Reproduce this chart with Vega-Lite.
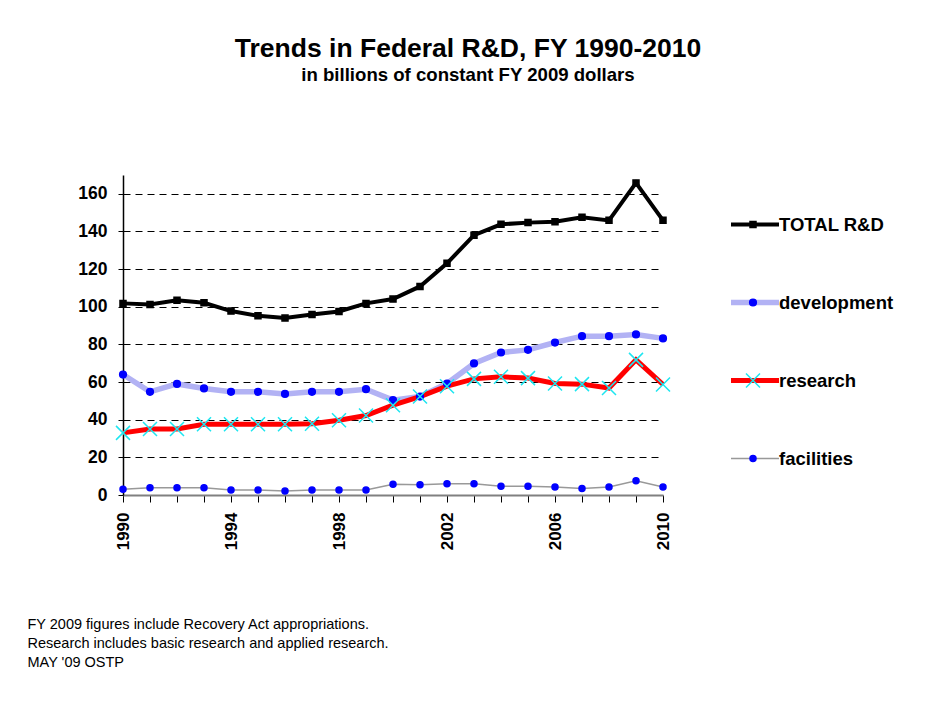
{
  "$schema": "https://vega.github.io/schema/vega-lite/v6.json",
  "width": 540,
  "height": 320,
  "padding": {"left": 27, "top": 35, "right": 10, "bottom": 10},
  "background": "white",
  "title": {
    "text": "Trends in Federal R&D, FY 1990-2010",
    "subtitle": "in billions of constant FY 2009 dollars",
    "fontSize": 26.5,
    "fontWeight": "bold",
    "color": "#000000",
    "subtitleFontSize": 18.6,
    "subtitleFontWeight": "bold",
    "subtitleColor": "#000000",
    "subtitlePadding": 4,
    "anchor": "middle",
    "frame": "group",
    "dx": 75,
    "offset": 90
  },
  "data": {
    "values": [
      {"year": 1990, "series": "TOTAL R&D", "value": 101.8},
      {"year": 1991, "series": "TOTAL R&D", "value": 101.2},
      {"year": 1992, "series": "TOTAL R&D", "value": 103.4},
      {"year": 1993, "series": "TOTAL R&D", "value": 102.1},
      {"year": 1994, "series": "TOTAL R&D", "value": 97.7},
      {"year": 1995, "series": "TOTAL R&D", "value": 95.2},
      {"year": 1996, "series": "TOTAL R&D", "value": 94.0},
      {"year": 1997, "series": "TOTAL R&D", "value": 95.9},
      {"year": 1998, "series": "TOTAL R&D", "value": 97.5},
      {"year": 1999, "series": "TOTAL R&D", "value": 101.8},
      {"year": 2000, "series": "TOTAL R&D", "value": 104.1},
      {"year": 2001, "series": "TOTAL R&D", "value": 110.8},
      {"year": 2002, "series": "TOTAL R&D", "value": 123.1},
      {"year": 2003, "series": "TOTAL R&D", "value": 138.0},
      {"year": 2004, "series": "TOTAL R&D", "value": 143.8},
      {"year": 2005, "series": "TOTAL R&D", "value": 144.7},
      {"year": 2006, "series": "TOTAL R&D", "value": 145.2},
      {"year": 2007, "series": "TOTAL R&D", "value": 147.5},
      {"year": 2008, "series": "TOTAL R&D", "value": 145.9},
      {"year": 2009, "series": "TOTAL R&D", "value": 165.8},
      {"year": 2010, "series": "TOTAL R&D", "value": 145.9},
      {"year": 1990, "series": "development", "value": 64.0},
      {"year": 1991, "series": "development", "value": 54.8},
      {"year": 1992, "series": "development", "value": 59.0},
      {"year": 1993, "series": "development", "value": 56.6},
      {"year": 1994, "series": "development", "value": 54.8},
      {"year": 1995, "series": "development", "value": 54.8},
      {"year": 1996, "series": "development", "value": 53.7},
      {"year": 1997, "series": "development", "value": 54.8},
      {"year": 1998, "series": "development", "value": 54.8},
      {"year": 1999, "series": "development", "value": 56.2},
      {"year": 2000, "series": "development", "value": 50.4},
      {"year": 2001, "series": "development", "value": 52.3},
      {"year": 2002, "series": "development", "value": 59.2},
      {"year": 2003, "series": "development", "value": 69.9},
      {"year": 2004, "series": "development", "value": 75.7},
      {"year": 2005, "series": "development", "value": 77.1},
      {"year": 2006, "series": "development", "value": 81.0},
      {"year": 2007, "series": "development", "value": 84.4},
      {"year": 2008, "series": "development", "value": 84.4},
      {"year": 2009, "series": "development", "value": 85.3},
      {"year": 2010, "series": "development", "value": 83.2},
      {"year": 1990, "series": "research", "value": 33.0},
      {"year": 1991, "series": "research", "value": 35.1},
      {"year": 1992, "series": "research", "value": 35.1},
      {"year": 1993, "series": "research", "value": 37.6},
      {"year": 1994, "series": "research", "value": 37.6},
      {"year": 1995, "series": "research", "value": 37.6},
      {"year": 1996, "series": "research", "value": 37.6},
      {"year": 1997, "series": "research", "value": 37.9},
      {"year": 1998, "series": "research", "value": 39.7},
      {"year": 1999, "series": "research", "value": 42.2},
      {"year": 2000, "series": "research", "value": 47.7},
      {"year": 2001, "series": "research", "value": 52.3},
      {"year": 2002, "series": "research", "value": 57.8},
      {"year": 2003, "series": "research", "value": 61.7},
      {"year": 2004, "series": "research", "value": 62.8},
      {"year": 2005, "series": "research", "value": 62.1},
      {"year": 2006, "series": "research", "value": 59.2},
      {"year": 2007, "series": "research", "value": 58.9},
      {"year": 2008, "series": "research", "value": 56.8},
      {"year": 2009, "series": "research", "value": 71.8},
      {"year": 2010, "series": "research", "value": 58.7},
      {"year": 1990, "series": "facilities", "value": 3.0},
      {"year": 1991, "series": "facilities", "value": 3.9},
      {"year": 1992, "series": "facilities", "value": 3.9},
      {"year": 1993, "series": "facilities", "value": 3.9},
      {"year": 1994, "series": "facilities", "value": 2.7},
      {"year": 1995, "series": "facilities", "value": 2.6},
      {"year": 1996, "series": "facilities", "value": 2.1},
      {"year": 1997, "series": "facilities", "value": 2.6},
      {"year": 1998, "series": "facilities", "value": 2.6},
      {"year": 1999, "series": "facilities", "value": 2.6},
      {"year": 2000, "series": "facilities", "value": 5.7},
      {"year": 2001, "series": "facilities", "value": 5.5},
      {"year": 2002, "series": "facilities", "value": 6.0},
      {"year": 2003, "series": "facilities", "value": 6.0},
      {"year": 2004, "series": "facilities", "value": 4.6},
      {"year": 2005, "series": "facilities", "value": 4.6},
      {"year": 2006, "series": "facilities", "value": 4.3},
      {"year": 2007, "series": "facilities", "value": 3.5},
      {"year": 2008, "series": "facilities", "value": 4.3},
      {"year": 2009, "series": "facilities", "value": 7.6},
      {"year": 2010, "series": "facilities", "value": 4.3}
    ]
  },
  "encoding": {
    "x": {
      "field": "year",
      "type": "quantitative",
      "scale": {"domain": [1990, 2010], "nice": false, "zero": false},
      "axis": {
        "values": [1990, 1991, 1992, 1993, 1994, 1995, 1996, 1997, 1998, 1999, 2000, 2001, 2002, 2003, 2004, 2005, 2006, 2007, 2008, 2009, 2010],
        "format": "d",
        "labelExpr": "datum.value % 4 == 2 ? datum.label : ''",
        "labelAngle": 270,
        "labelFontSize": 17,
        "labelFontWeight": "bold",
        "labelColor": "#000000",
        "labelPadding": 10,
        "labelFlush": false,
        "labelOverlap": false,
        "tickSize": 7,
        "tickColor": "#000000",
        "tickWidth": 1,
        "domainColor": "#808080",
        "domainWidth": 2,
        "grid": false,
        "title": [
          "FY 2009 figures include Recovery Act appropriations.",
          "Research includes basic research and applied research.",
          "MAY '09 OSTP"
        ],
        "titleFontSize": 14.5,
        "titleFontWeight": "normal",
        "titleColor": "#000000",
        "titleAlign": "left",
        "titleBaseline": "alphabetic",
        "titleAngle": 0,
        "titleX": -96,
        "titleY": 133,
        "titleLineHeight": 19
      }
    },
    "y": {
      "field": "value",
      "type": "quantitative",
      "scale": {"domain": [0, 170], "nice": false},
      "axis": {
        "values": [0, 20, 40, 60, 80, 100, 120, 140, 160],
        "labelFontSize": 17.5,
        "labelFontWeight": "bold",
        "labelColor": "#000000",
        "labelPadding": 11,
        "tickSize": 5,
        "tickColor": "#000000",
        "domainColor": "#000000",
        "domainWidth": 1.5,
        "grid": true,
        "gridDash": [7, 5],
        "gridColor": "#000000",
        "gridWidth": 1,
        "gridOpacity": {"condition": {"test": "datum.value === 0", "value": 0}, "value": 1},
        "title": null
      }
    }
  },
  "layer": [
    {
      "mark": {"type": "line", "interpolate": "linear"},
      "encoding": {
        "color": {
          "field": "series",
          "type": "nominal",
          "scale": {
            "domain": ["TOTAL R&D", "development", "research", "facilities"],
            "range": ["#000000", "#b2b2f4", "#ff0000", "#999999"]
          },
          "legend": {
            "orient": "none", "legendX": 605, "legendY": 39.5, "title": null,
            "symbolType": "stroke", "symbolSize": 2304, "labelFontSize": 18.5,
            "labelFontWeight": "bold", "labelColor": "#000000", "labelOffset": -3,
            "clipHeight": 20, "rowPadding": 58, "padding": 0
          }
        },
        "strokeWidth": {
          "field": "series",
          "type": "nominal",
          "scale": {
            "type": "ordinal",
            "domain": ["TOTAL R&D", "development", "research", "facilities"],
            "range": [4, 5.5, 5, 1.5]
          },
          "legend": {
            "orient": "none", "legendX": 605, "legendY": 39.5, "title": null,
            "symbolType": "stroke", "symbolSize": 2304, "labelFontSize": 18.5,
            "labelFontWeight": "bold", "labelColor": "#000000", "labelOffset": -3,
            "clipHeight": 20, "rowPadding": 58, "padding": 0
          }
        }
      }
    },
    {
      "mark": {"type": "point", "opacity": 1, "strokeWidth": 1.5},
      "encoding": {
        "shape": {
          "field": "series",
          "type": "nominal",
          "scale": {
            "domain": ["TOTAL R&D", "development", "facilities", "research"],
            "range": ["square", "circle", "circle", "M-1,-1L1,1M-1,1L1,-1"]
          },
          "legend": {
            "orient": "none", "legendX": 622, "legendY": 39.5, "title": null,
            "values": ["TOTAL R&D", "development", "research", "facilities"],
            "labelExpr": "''", "clipHeight": 20, "rowPadding": 58, "padding": 0
          }
        },
        "fill": {
          "field": "series",
          "type": "nominal",
          "scale": {
            "domain": ["TOTAL R&D", "development", "facilities", "research"],
            "range": ["#000000", "#0000ff", "#0000ff", "transparent"]
          },
          "legend": {
            "orient": "none", "legendX": 622, "legendY": 39.5, "title": null,
            "values": ["TOTAL R&D", "development", "research", "facilities"],
            "labelExpr": "''", "clipHeight": 20, "rowPadding": 58, "padding": 0
          }
        },
        "stroke": {
          "field": "series",
          "type": "nominal",
          "scale": {
            "domain": ["TOTAL R&D", "development", "facilities", "research"],
            "range": ["#000000", "#0000ff", "#0000ff", "#1ee6f0"]
          },
          "legend": {
            "orient": "none", "legendX": 622, "legendY": 39.5, "title": null,
            "values": ["TOTAL R&D", "development", "research", "facilities"],
            "labelExpr": "''", "clipHeight": 20, "rowPadding": 58, "padding": 0
          }
        },
        "size": {
          "field": "series",
          "type": "nominal",
          "scale": {
            "type": "ordinal",
            "domain": ["TOTAL R&D", "development", "facilities", "research"],
            "range": [36, 45, 36, 196]
          },
          "legend": {
            "orient": "none", "legendX": 622, "legendY": 39.5, "title": null,
            "values": ["TOTAL R&D", "development", "research", "facilities"],
            "labelExpr": "''", "clipHeight": 20, "rowPadding": 58, "padding": 0
          }
        }
      }
    }
  ],
  "config": {
    "font": "Liberation Sans",
    "view": {"stroke": null}
  }
}
